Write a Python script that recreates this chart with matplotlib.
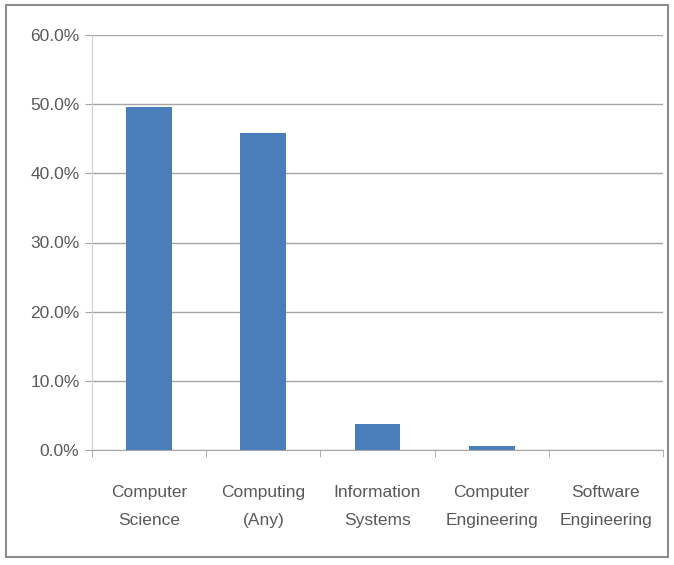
import numpy as np
import matplotlib.pyplot as plt
from matplotlib.patches import Rectangle
from matplotlib.ticker import FuncFormatter

# data
categories = ['Computer\nScience', 'Computing\n(Any)', 'Information\nSystems',
              'Computer\nEngineering', 'Software\nEngineering']
values = [49.6, 45.8, 3.7, 0.6, 0.0]
yticks = [0, 10, 20, 30, 40, 50, 60]

plt.rcParams['font.family'] = ['Liberation Sans Narrow', 'Liberation Sans', 'DejaVu Sans']
text_color = '#595959'
grid_color = '#a6a6a6'

fig = plt.figure(figsize=(6.74, 5.65), dpi=100)
ax = fig.add_axes([92 / 674, 1 - 450 / 565, (663 - 92) / 674, (450 - 35) / 565])

x = np.arange(len(categories))
ax.bar(x, values, width=0.4, color='#4a7ebb', zorder=3)

ax.set_xlim(-0.5, len(categories) - 0.5)
ax.set_ylim(0, 60)
ax.set_yticks(yticks)
ax.yaxis.set_major_formatter(FuncFormatter(lambda v, p: '%.1f%%' % v))
ax.set_xticks(x)
ax.set_xticklabels(categories, fontsize=12.5, color=text_color, linespacing=2.1)
ax.set_xticks(np.arange(len(categories) + 1) - 0.5, minor=True)
ax.tick_params(axis='x', which='major', length=0, pad=25)
ax.tick_params(axis='x', which='minor', length=5, color=grid_color)
ax.tick_params(axis='y', length=5, color=grid_color, labelsize=12.5,
               labelcolor=text_color, pad=4)

ax.grid(axis='y', color=grid_color, linewidth=1, zorder=0)
for s in ['top', 'right']:
    ax.spines[s].set_visible(False)
ax.spines['left'].set_color('#d0d0d0')
ax.spines['bottom'].set_color(grid_color)

# frame round the chart
fig.patches.append(Rectangle((6 / 674, 1 - 557 / 565), 662 / 674, 552 / 565,
                             transform=fig.transFigure, fill=False,
                             edgecolor='#8c8c8c', linewidth=1.5))

fig.savefig('out.png', dpi=100)
